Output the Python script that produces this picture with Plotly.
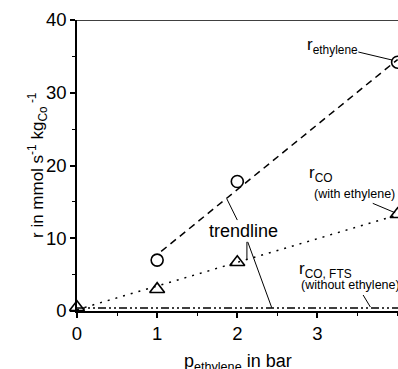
import numpy as np
import plotly.graph_objects as go

# Measured rates (mmol s^-1 kg_Co^-1) versus ethylene partial pressure (bar)
p_ethylene = [1, 2, 4]
r_ethylene = [7.0, 17.8, 34.2]

p_co = [0, 1, 2, 4]
r_co = [0.5, 3.0, 6.7, 13.3]

p_fts = [0, 4.2]
r_fts = [0.4, 0.4]

x_ticks = [0, 1, 2, 3]
y_ticks = [0, 10, 20, 30, 40]

FONT = "Arial, Liberation Sans, sans-serif"

# Linear trendlines through the measured points
k_eth, d_eth = np.polyfit(p_ethylene, r_ethylene, 1)
k_co, d_co = np.polyfit(p_co, r_co, 1)
x_eth_fit = np.array([1.05, 4.0])
x_co_fit = np.array([0.0, 4.0])

fig = go.Figure()

fig.add_trace(go.Scatter(
    x=x_eth_fit, y=k_eth * x_eth_fit + d_eth, mode="lines",
    line=dict(color="black", width=1.5, dash="7px,5px"), hoverinfo="skip"))
fig.add_trace(go.Scatter(
    x=x_co_fit, y=k_co * x_co_fit + d_co, mode="lines",
    line=dict(color="black", width=1.5, dash="2px,6px"), hoverinfo="skip"))
fig.add_trace(go.Scatter(
    x=p_fts, y=r_fts, mode="lines",
    line=dict(color="black", width=1.5, dash="8px,3px,2px,3px,2px,3px"),
    hoverinfo="skip"))

fig.add_trace(go.Scatter(
    x=p_ethylene, y=r_ethylene, mode="markers", cliponaxis=False,
    marker=dict(symbol="circle-open", size=12, color="black",
                line=dict(width=1.6, color="black"))))
fig.add_trace(go.Scatter(
    x=p_co, y=r_co, mode="markers", cliponaxis=False,
    marker=dict(symbol="triangle-up-open", size=13, color="black",
                line=dict(width=1.6, color="black"))))

# Top frame line
fig.add_shape(type="line", xref="paper", x0=0, x1=1, yref="y", y0=40, y1=40,
              line=dict(color="black", width=1.5))

# Pointer lines from labels to curves
pointers = [
    (3.51, 35.6, 3.93, 34.5),   # r_ethylene
    (3.69, 14.8, 3.97, 13.5),   # r_CO
    (3.57, 2.2, 3.66, 0.55),    # r_CO,FTS
    (2.00, 12.5, 1.87, 15.4),   # trendline -> dashed
    (2.12, 9.5, 2.12, 7.1),     # trendline -> dotted
    (2.13, 9.5, 2.43, 0.45),    # trendline -> dash-dot
]
for x0, y0, x1, y1 in pointers:
    fig.add_shape(type="line", x0=x0, y0=y0, x1=x1, y1=y1,
                  line=dict(color="black", width=1))

labels = [
    (2.845, 36.4, "r<sub>ethylene</sub>", 17),
    (2.87, 18.8, "r<sub>CO</sub>", 17),
    (2.93, 16.1, "(with ethylene)", 12.5),
    (2.745, 5.7, "r<sub>CO, FTS</sub>", 17),
    (2.77, 3.6, "(without ethylene)", 12.5),
    (1.622, 11.0, "trendline", 18),
]
for x, y, t, s in labels:
    fig.add_annotation(x=x, y=y, text=t, showarrow=False, xanchor="left",
                       font=dict(family=FONT, size=s, color="black"))

# Axis titles
fig.add_annotation(xref="paper", yref="paper", x=0, y=0.5, xshift=-54,
                   text="r in mmol s<sup>-1</sup> kg<sub>Co</sub><sup> -1</sup>",
                   textangle=-90, showarrow=False,
                   font=dict(family=FONT, size=17, color="black"))
fig.add_annotation(xref="paper", yref="paper", x=0.5, y=0, yshift=-51,
                   text="p<sub>ethylene</sub> in bar", showarrow=False,
                   yanchor="middle",
                   font=dict(family=FONT, size=18, color="black"))

fig.update_layout(
    width=398, height=369,
    margin=dict(l=77, r=0, t=20, b=58),
    paper_bgcolor="white", plot_bgcolor="white",
    showlegend=False,
    font=dict(family=FONT, size=18.5, color="black"),
)
fig.update_xaxes(
    range=[0, 4.005], tickvals=x_ticks, showgrid=False, zeroline=False,
    showline=True, linecolor="black", linewidth=1.5,
    ticks="outside", ticklen=5, tickwidth=1.5, tickcolor="black",
    minor=dict(dtick=0.5, ticks="outside", ticklen=3, tickwidth=1.2,
               tickcolor="black", showgrid=False),
)
fig.update_yaxes(
    range=[0, 40], tickvals=y_ticks, showgrid=False, zeroline=False,
    showline=True, linecolor="black", linewidth=1.5,
    ticks="outside", ticklen=5, tickwidth=1.5, tickcolor="black",
    minor=dict(dtick=5, ticks="outside", ticklen=3, tickwidth=1.2,
               tickcolor="black", showgrid=False),
)

fig.write_html("out.html")
